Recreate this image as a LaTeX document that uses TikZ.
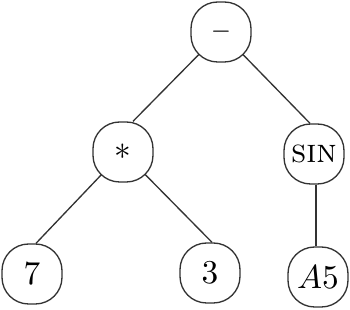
\documentclass[tikz,border=0pt]{standalone}
\usetikzlibrary{backgrounds}
\begin{document}
\begin{tikzpicture}[
  x=0.3pt,y=-0.3pt,
  term/.style={draw=black!80, fill=white, rounded corners=8pt,
               minimum size=18pt, inner sep=1pt},
  edge/.style={draw=black!80}
]
  \useasboundingbox (0,0) rectangle (350,310);

  % operators
  \node[term] (minus) at (221,32) {\scriptsize$-$};
  \node[term] (mul) at (123,152) {$*$};
  \node[term] (sine) at (314,154) {\textsc{sin}};

  % leaves
  \node[term] (seven) at (32,274) {$7$};
  \node[term] (three) at (210,273) {$3$};
  \node[term] (afive) at (318,277) {$A5$};

  \begin{pgfonlayer}{background}
    \draw[edge] (minus.center) -- ([xshift=3pt]mul.north);
    \draw[edge] (minus.center) -- ([xshift=-1.2pt]sine.north);
    \draw[edge] (mul.center) -- ([xshift=1.2pt]seven.north);
    \draw[edge] (mul.center) -- ([xshift=0.6pt]three.north);
    \draw[edge] ([xshift=0.6pt]sine.south) -- ([xshift=0.6pt]sine.south |- afive.north);
  \end{pgfonlayer}
\end{tikzpicture}
\end{document}
